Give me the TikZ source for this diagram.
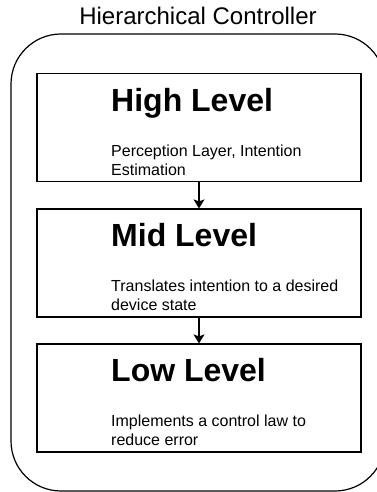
\documentclass[tikz,border=0pt]{standalone}
\usepackage{fontspec}
\setmainfont{Liberation Sans}
\usetikzlibrary{arrows.meta}
\begin{document}
\begin{tikzpicture}[x=1pt,y=-1pt,
  frame/.style={draw=black, line width=1.2pt, rounded corners=50pt},
  levelbox/.style={draw=black, line width=1.2pt, minimum width=324pt, minimum height=108pt, inner sep=0pt},
  heading/.style={anchor=base west, inner sep=0pt, font=\fontsize{32}{38}\selectfont\bfseries},
  body/.style={anchor=base west, inner sep=0pt, align=left, font=\fontsize{16}{19.2}\selectfont},
  flow/.style={draw=black, line width=1.2pt, -{Stealth[length=9pt,width=11pt,inset=2pt]}}]
  \useasboundingbox (0,0) rectangle (377,492);
  % outer container and its caption
  \draw[frame] (11,34) rectangle (385,491);
  \node[anchor=base, inner sep=0pt, font=\fontsize{24}{29}\selectfont] (title) at (198,25) {Hierarchical Controller};
  % the three levels
  \node[levelbox] (high) at (199,127.5) {};
  \node[levelbox] (mid)  at (199,263) {};
  \node[levelbox] (low)  at (199,398) {};
  \node[heading] (highh) at (111,111) {High Level};
  \node[body] (highb) at (111,175.2) {Perception Layer, Intention\\Estimation};
  \node[heading] (midh) at (111,246.5) {Mid Level};
  \node[body] (midb) at (111,310.7) {Translates intention to a desired\\device state};
  \node[heading] (lowh) at (111,381.5) {Low Level};
  \node[body] (lowb) at (111,445.7) {Implements a control law to\\reduce error};
  % connectors between levels
  \draw[flow] (high.south) -- (mid.north);
  \draw[flow] (mid.south) -- (low.north);
\end{tikzpicture}
\end{document}
